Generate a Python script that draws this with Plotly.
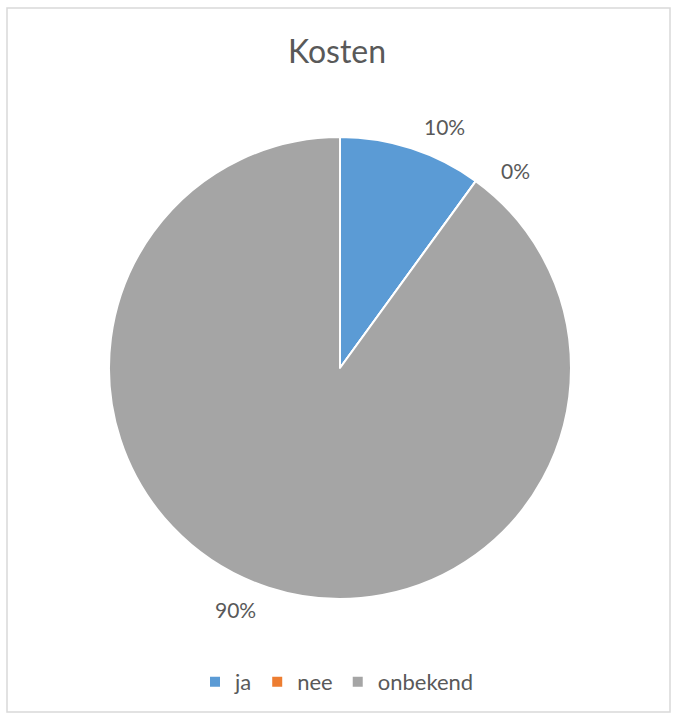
import math
import plotly.graph_objects as go

labels = ["ja", "nee", "onbekend"]
values = [10, 0, 90]
colors = ["#5B9BD5", "#ED7D31", "#A5A5A5"]
title_text = "Kosten"

W, H = 674, 717
cx, cy_top, R = 340, 368, 231
cy = H - cy_top
FONT = "Lato, 'Open Sans', sans-serif"
TXT = "#595959"

fig = go.Figure()
fig.add_trace(go.Pie(
    labels=labels, values=values, sort=False, direction="clockwise", rotation=0,
    marker=dict(colors=colors, line=dict(color="white", width=2)),
    textinfo="none", hoverinfo="label+percent",
    domain=dict(x=[(cx - R) / W, (cx + R) / W], y=[(cy - R) / H, (cy + R) / H]),
    showlegend=True,
))

# data labels placed around the pie at each slice's mid-angle
total = sum(values)
cum = 0
annotations = []
LX, LY = 267, 262
for lab, v in zip(labels, values):
    mid = (cum + v / 2) / total * 360
    cum += v
    ang = math.radians(mid + 5)
    x = (cx + LX * math.sin(ang)) / W
    y = (cy + LY * math.cos(ang)) / H
    annotations.append(dict(
        x=x, y=y, xref="paper", yref="paper", showarrow=False,
        text=f"{round(v / total * 100)}%", font=dict(family=FONT, size=21, color=TXT),
        xanchor="center", yanchor="middle"))

fig.update_layout(
    width=W, height=H, margin=dict(l=0, r=0, t=0, b=0),
    paper_bgcolor="white", plot_bgcolor="white",
    title=dict(text=title_text, x=0.5, xanchor="center", y=1 - 52 / H, yanchor="middle",
               font=dict(family=FONT, size=32, color=TXT)),
    legend=dict(orientation="h", x=0.5, xanchor="center", y=1 - 682 / H, yanchor="middle",
                font=dict(family=FONT, size=22, color=TXT), itemwidth=30,
                traceorder="normal"),
    annotations=annotations,
    shapes=[dict(type="rect", xref="paper", yref="paper",
                 x0=7 / W, x1=670 / W, y0=1 - 712 / H, y1=1 - 8 / H,
                 line=dict(color="#D9D9D9", width=1.5), fillcolor="rgba(0,0,0,0)")],
)

fig.write_html("out.html", config={"displayModeBar": False},
               post_script="document.body.style.margin='0';document.body.style.overflow='hidden';")
